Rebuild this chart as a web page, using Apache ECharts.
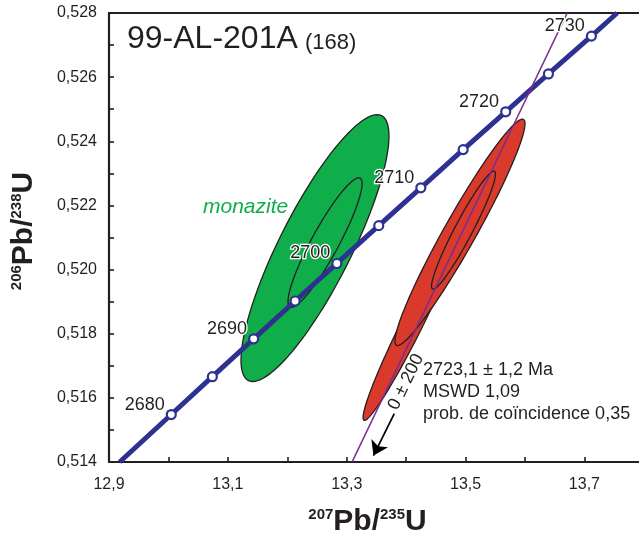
<!DOCTYPE html>
<html>
<head>
<meta charset="utf-8">
<script src="https://cdn.jsdelivr.net/npm/echarts@6/dist/echarts.min.js"></script>
<style>html,body{margin:0;padding:0;background:#fff;}#c{width:639px;height:542px;}</style>
</head>
<body>
<div id="c"></div>
<script>
// ---- Data ----
const ages = [2680, 2685, 2690, 2695, 2700, 2705, 2710, 2715, 2720, 2725, 2730];
const concordiaX = [13.0048, 13.0739, 13.1434, 13.2132, 13.2834, 13.3539, 13.4247, 13.4959, 13.5675, 13.6394, 13.7117];
const concordiaY = [0.51548, 0.51666, 0.51784, 0.51902, 0.52019, 0.52137, 0.52255, 0.52374, 0.52492, 0.52610, 0.52728];
const concordiaStart = [12.918, 0.514];
const concordiaEnd = [13.755, 0.528];

const discordiaX = [13.309, 13.671];
const discordiaY = [0.514, 0.528];
const arrowFrom = [13.380, 0.51551];
const arrowTo = [13.345, 0.51420];

// error ellipses: centre, half-widths (x, y) and correlation
const monaziteCx = [13.2466, 13.2635];
const monaziteCy = [0.52067, 0.52084];
const monaziteSx = [0.1245, 0.0623];
const monaziteSy = [0.00416, 0.00202];
const monaziteRho = [0.84, 0.91];

const zirconCx = [13.409, 13.4906, 13.4965];
const zirconCy = [0.51827, 0.52116, 0.52123];
const zirconSx = [0.0815, 0.1094, 0.0538];
const zirconSy = [0.00297, 0.00353, 0.00184];
const zirconRho = [0.97, 0.96, 0.95];

const sampleName = '99-AL-201A';
const sampleCount = '(168)';
const resultLines = ['2723,1 ± 1,2 Ma', 'MSWD 1,09', 'prob. de coïncidence 0,35'];
const lowerIntercept = '0 ± 200';

// ---- Chart ----
const TXT = '#231f20';
const FONT = '"Liberation Sans", Arial, Helvetica, sans-serif';
const chart = echarts.init(document.getElementById('c'), null, {renderer: 'canvas'});

function ellipseData(cx, cy, sx, sy, rho) {
  return cx.map((v, i) => [v, cy[i], sx[i], sy[i], rho[i]]);
}
function renderEllipse(params, api) {
  const cx = api.value(0), cy = api.value(1), sx = api.value(2), sy = api.value(3), r = api.value(4);
  const k = Math.sqrt(1 - r * r);
  const pts = [];
  const n = 120;
  for (let i = 0; i < n; i++) {
    const t = i / n * Math.PI * 2;
    const x = cx + sx * Math.cos(t);
    const y = cy + sy * (r * Math.cos(t) + k * Math.sin(t));
    pts.push(api.coord([x, y]));
  }
  return {
    type: 'polygon',
    shape: {points: pts},
    style: {fill: api.visual('color'), stroke: TXT, lineWidth: 1.3}
  };
}

const concordiaLine = [concordiaStart].concat(concordiaX.map((x, i) => [x, concordiaY[i]])).concat([concordiaEnd]);
const markers = concordiaX.map((x, i) => [x, concordiaY[i], ages[i]]);
const discordia = discordiaX.map((x, i) => [x, discordiaY[i]]);

const axisCommon = {
  axisLine: {show: true, onZero: false, lineStyle: {color: TXT, width: 2.2}},
  axisTick: {show: true, inside: true, length: 5, lineStyle: {color: TXT, width: 1.6}},
  splitLine: {show: false}
};

const option = {
  animation: false,
  textStyle: {fontFamily: FONT},
  grid: {left: 109, right: 0, top: 13, bottom: 80, containLabel: false},
  xAxis: [Object.assign({
    type: 'value', min: 12.9, max: 13.7918, interval: 0.1,
    name: '{sup|207}{main|Pb/}{sup|235}{main|U}',
    nameLocation: 'middle', nameGap: 45,
    nameTextStyle: {
      padding: [0, 13, 0, 0],
      rich: {
        sup: {fontSize: 15, fontWeight: 'bold', color: TXT, lineHeight: 17, verticalAlign: 'top', fontFamily: FONT},
        main: {fontSize: 30, fontWeight: 'bold', color: TXT, lineHeight: 30, verticalAlign: 'bottom', fontFamily: FONT}
      }
    },
    axisLabel: {
      fontSize: 16, color: TXT, margin: 15, showMaxLabel: false,
      formatter: v => (Math.round(v * 10) % 2 === 1 ? v.toFixed(1).replace('.', ',') : '')
    }
  }, axisCommon), {
    type: 'value', min: 12.9, max: 13.7918, position: 'top',
    axisLine: {show: true, onZero: false, lineStyle: {color: TXT, width: 2.2}},
    axisTick: {show: false}, axisLabel: {show: false}, splitLine: {show: false}
  }],
  yAxis: Object.assign({
    type: 'value', min: 0.514, max: 0.528, interval: 0.001,
    name: '{sup|206}{main|Pb/}{sup|238}{main|U}',
    nameLocation: 'middle', nameGap: 70,
    nameTextStyle: {
      padding: [0, 0, 0, 13],
      rich: {
        sup: {fontSize: 15, fontWeight: 'bold', color: TXT, lineHeight: 17, verticalAlign: 'top', fontFamily: FONT},
        main: {fontSize: 30, fontWeight: 'bold', color: TXT, lineHeight: 30, verticalAlign: 'bottom', fontFamily: FONT}
      }
    },
    axisLabel: {
      fontSize: 16, color: TXT, margin: 12,
      formatter: v => (Math.round(v * 1000) % 2 === 0 ? v.toFixed(3).replace('.', ',') : '')
    }
  }, axisCommon),
  series: [
    {
      type: 'custom', name: 'monazite', renderItem: renderEllipse, clip: true,
      itemStyle: {color: '#10ad4b'}, z: 1,
      data: ellipseData(monaziteCx, monaziteCy, monaziteSx, monaziteSy, monaziteRho)
    },
    {
      type: 'custom', name: 'zircon', renderItem: renderEllipse, clip: true,
      itemStyle: {color: '#d93a2b'}, z: 1,
      data: ellipseData(zirconCx, zirconCy, zirconSx, zirconSy, zirconRho)
    },
    {
      type: 'line', name: 'concordia', data: concordiaLine, symbol: 'none', clip: true,
      lineStyle: {color: '#2e3192', width: 5}, z: 3, silent: true
    },
    {
      type: 'line', name: 'discordia', data: discordia, symbol: 'none', clip: true,
      lineStyle: {color: '#7a2c91', width: 1.6}, z: 4, silent: true,
      markLine: {
        silent: true, symbol: ['none', 'arrow'], symbolSize: 14,
        label: {show: false},
        lineStyle: {color: '#000', width: 1.7, type: 'solid'},
        data: [[{coord: arrowFrom}, {coord: arrowTo}]]
      }
    },
    {
      type: 'scatter', name: 'ages', data: markers, symbol: 'circle', symbolSize: 9, z: 5,
      itemStyle: {color: '#ffffff', borderColor: '#2e3192', borderWidth: 2.2, opacity: 1},
      label: {
        show: true, position: 'left', distance: 1, offset: [0, -10],
        fontSize: 18, color: TXT, textBorderColor: '#ffffff', textBorderWidth: 2.5,
        formatter: p => (p.value[2] % 10 === 0 ? String(p.value[2]) : '')
      }
    }
  ],
  graphic: [
    {type: 'text', x: 127, y: 39.5, z: 10, style: {text: sampleName, font: '32px ' + FONT, fill: TXT, verticalAlign: 'middle', align: 'left'}},
    {type: 'text', x: 305, y: 43, z: 10, style: {text: sampleCount, font: '22px ' + FONT, fill: TXT, verticalAlign: 'middle', align: 'left'}},
    {type: 'text', x: 203, y: 207.5, z: 10, style: {text: 'monazite', font: 'italic 21px ' + FONT, fill: '#10ad4b', verticalAlign: 'middle', align: 'left'}},
    {type: 'text', x: 423, y: 370.5, z: 10, style: {text: resultLines[0], font: '18px ' + FONT, fill: TXT, verticalAlign: 'middle', align: 'left'}},
    {type: 'text', x: 423, y: 392.5, z: 10, style: {text: resultLines[1], font: '18px ' + FONT, fill: TXT, verticalAlign: 'middle', align: 'left'}},
    {type: 'text', x: 423, y: 414.5, z: 10, style: {text: resultLines[2], font: '18px ' + FONT, fill: TXT, verticalAlign: 'middle', align: 'left'}},
    {type: 'text', x: 406, y: 382, rotation: 64 * Math.PI / 180, z: 10,
     style: {text: lowerIntercept, font: '18px ' + FONT, fill: TXT, verticalAlign: 'middle', align: 'center'}}
  ]
};
chart.setOption(option);
</script>
</body>
</html>
